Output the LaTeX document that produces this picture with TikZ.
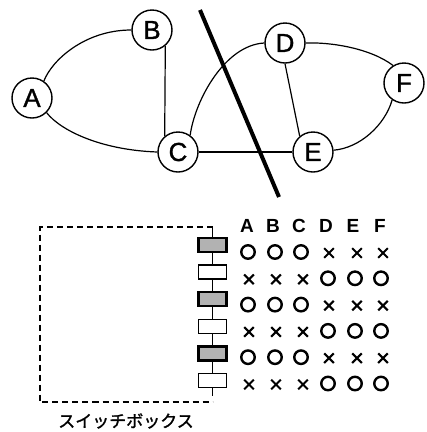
\documentclass[tikz,border=0pt]{standalone}
\usepackage{fontspec}
\setmainfont{Liberation Sans}
\newfontfamily\lblfont[FakeBold=1.2]{Liberation Sans}
\newfontfamily\jpfont[FakeBold=1.5]{Noto Sans CJK JP}
\usetikzlibrary{shapes.misc}
\begin{document}
\begin{tikzpicture}[x=1pt,y=-1pt,
  vtx/.style={circle,draw,line width=1.4pt,minimum size=40pt,inner sep=0pt,
    font=\lblfont\fontsize{26}{26}\selectfont},
  edge/.style={line width=1.2pt},
  cut/.style={line width=4pt},
  onbox/.style={rectangle,draw,line width=2.2pt,fill=gray!60,minimum width=28pt,minimum height=14pt,inner sep=0pt},
  offbox/.style={rectangle,draw,line width=1.5pt,fill=white,minimum width=28pt,minimum height=14pt,inner sep=0pt},
  omark/.style={circle,draw,line width=2.4pt,minimum size=13.5pt,inner sep=0pt},
  xmark/.style={cross out,draw,line width=2.1pt,minimum size=7.5pt,inner sep=0pt},
  hdr/.style={font=\bfseries\fontsize{19}{19}\selectfont,anchor=center},
  frame/.style={line width=1.5pt,dash pattern=on 6pt off 4pt},
  wire/.style={line width=1.4pt}
]
\useasboundingbox (0,0) rectangle (427,432);

% graph
\node[vtx] (A) at (32,98) {A};
\node[vtx] (B) at (152,30) {B};
\node[vtx] (C) at (178,152) {C};
\node[vtx] (D) at (285,43) {D};
\node[vtx] (E) at (313,152) {E};
\node[vtx] (F) at (404,83) {F};

\draw[edge] (A.55) .. controls (52,60) and (85,30) .. (B.west);
\draw[edge] (A.-45) .. controls (60,130) and (100,150) .. (C.west);
\draw[edge] (B.-50) -- (C.130);
\draw[edge] (C.54) .. controls (195,100) and (225,45) .. (D.west);
\draw[edge] (C) -- (E);
\draw[edge] (D.-90) -- (E.130);
\draw[edge] (D.east) .. controls (330,42) and (370,48) .. (F.122);
\draw[edge] (E.5) .. controls (360,148) and (385,125) .. (F.235);

\coordinate (cutTop) at (200,10);
\coordinate (cutBot) at (279,197);
\draw[cut] (cutTop) -- (cutBot);

% switch box
\foreach \i/\s in {1/onbox,2/offbox,3/onbox,4/offbox,5/onbox,6/offbox}{
  \node[\s] (s\i) at (212.5,{245+27.1*(\i-1)}) {};
}
\coordinate (tr) at (212.5,227);
\coordinate (tl) at (40,227);
\coordinate (bl) at (40,402);
\coordinate (br) at (212.5,402);
\draw[frame] (tr) -- (tl) -- (bl) -- (br);
\draw[wire] (tr) -- (s1.north);
\draw[wire] (s1) -- (s2);
\draw[wire] (s2) -- (s3);
\draw[wire] (s3) -- (s4);
\draw[wire] (s4) -- (s5);
\draw[wire] (s5) -- (s6);
\draw[wire] (s6.south) -- ++(0,8);

\node[font=\jpfont\fontsize{17}{17}\selectfont,inner sep=0pt] (lbl) at (126,421) {スイッチボックス};

% table
\foreach \c/\x/\t in {1/247/A,2/273/B,3/299/C,4/326/D,5/353/E,6/380/F}{
  \node[hdr] (h\c) at (\x,226) {\t};
}
\foreach \r in {1,3,5}{
  \foreach \c/\x in {1/248,2/275,3/301}{
    \node[omark] (m\r\c) at (\x,{252+26.3*(\r-1)}) {};
  }
  \foreach \c/\x in {4/329,5/357,6/383}{
    \node[xmark] (m\r\c) at (\x,{253+26.3*(\r-1)}) {};
  }
}
\foreach \r in {2,4,6}{
  \foreach \c/\x in {1/249,2/276,3/303}{
    \node[xmark] (m\r\c) at (\x,{253+26.3*(\r-1)}) {};
  }
  \foreach \c/\x in {4/328,5/355,6/381}{
    \node[omark] (m\r\c) at (\x,{252+26.3*(\r-1)}) {};
  }
}
\end{tikzpicture}
\end{document}
